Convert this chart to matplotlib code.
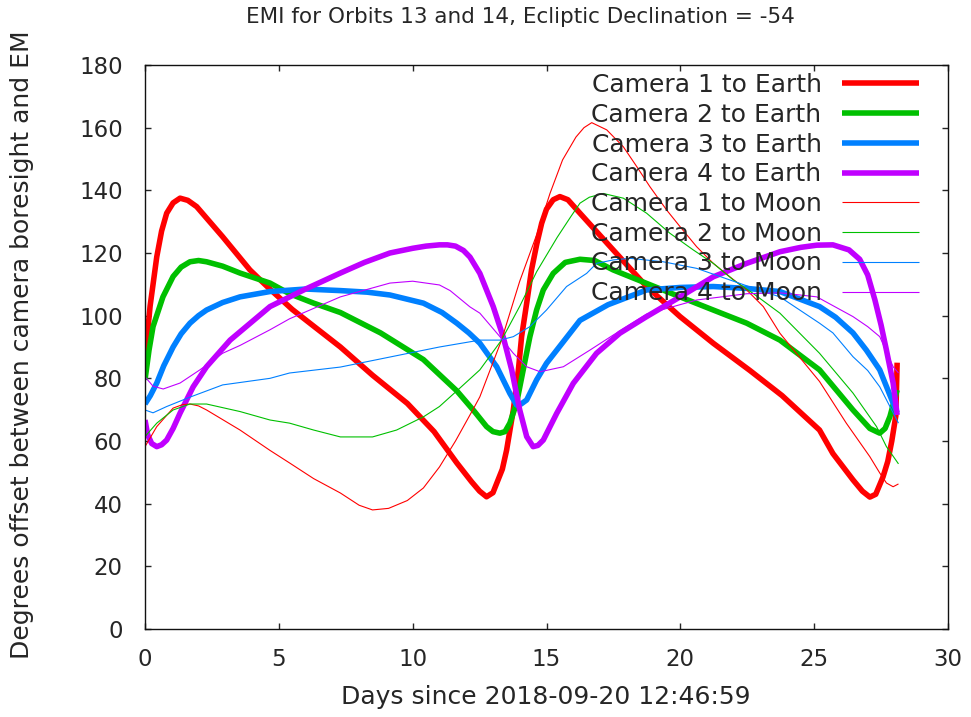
import numpy as np
import matplotlib
matplotlib.use("Agg")
import matplotlib.pyplot as plt

# Camera-to-Earth / Camera-to-Moon angles
# (days since epoch, degrees)

c1e_d = [0, 0.19, 0.44, 0.62, 0.81, 1.05, 1.31, 1.6, 1.93, 2.9, 3.92, 4.6, 5.5, 6.4, 7.3,
         8.5, 9.8, 10.8, 11.65, 12.2, 12.5, 12.76, 13.0, 13.14, 13.35, 13.51, 13.76, 13.95,
         14.07, 14.26, 14.44, 14.64, 14.82, 15.0, 15.25, 15.5, 15.8, 16.25, 17.49, 18.74,
         19.99, 21.23, 22.6, 23.8, 25.2, 25.7, 26.45, 26.8, 27.08, 27.3, 27.57, 27.75,
         27.9, 28.05, 28.1]
c1e_v = [86, 103, 118.8, 127, 132.7, 136, 137.5, 136.8, 134.8, 125.2, 114.6, 109, 102, 96, 90,
         81, 72, 63, 53, 47, 44, 42.2, 43.5, 46.5, 51, 57.1, 69.9, 82.7,
         93.3, 104, 114.6, 123, 129.5, 134, 137, 138, 137, 132.7, 121, 109.3,
         99.7, 91.2, 82.5, 74.5, 63.5, 56, 47.6, 44, 42.1, 43, 48.5, 53.5,
         60, 68, 85]

c2e_d = [0, 0.15, 0.3, 0.67, 1.05, 1.35, 1.68, 2.0, 2.3, 2.9, 3.55, 4.67, 5.4, 6.3, 7.3, 8.8,
         10.4, 11.65, 12.3, 12.76, 13.0, 13.26, 13.45, 13.63, 13.88, 14.13, 14.38, 14.63,
         14.88, 15.25, 15.7, 16.25, 16.8, 17.49, 18.74, 19.99, 21.23, 22.48, 23.72, 25.2,
         26.45, 27.08, 27.45, 27.65, 27.83, 28.1]
c2e_v = [79.5, 89, 96.5, 106, 112.5, 115.5, 117.2, 117.6, 117.2, 115.8, 113.6, 110.4, 107, 104, 101, 94.5,
         86, 76, 69.5, 64.6, 63, 62.5, 63, 65.7, 72, 82.7, 93.3, 101.8,
         108.2, 113.5, 117, 118, 117.6, 114.6, 110.3, 106, 101.8, 97.6, 92.2, 82.7,
         69.9, 64, 62.5, 64, 67.8, 76.3]

c3e_d = [0, 0.2, 0.44, 0.7, 1.05, 1.35, 1.68, 2.0, 2.3, 2.9, 3.55, 4.67, 6.0, 7.3, 8.3, 9.15,
         10.4, 11.1, 11.65, 12.1, 12.51, 13.14, 13.63, 13.88, 14.05, 14.26, 14.63, 15.0,
         15.63, 16.25, 17.3, 18.74, 19.99, 21.23, 22.48, 23.72, 25.2, 25.8, 26.45, 26.95,
         27.45, 27.95, 28.1]
c3e_v = [71.8, 74.5, 78.5, 84, 90, 94.2, 97.6, 100, 101.8, 104.2, 106, 107.7, 108.5, 108, 107.5, 106.6,
         104, 101, 97.6, 94.5, 91.2, 83.7, 75.2, 71.5, 71.8, 73.1, 79.5, 84.8,
         91.7, 98.5, 103.5, 108.2, 109, 109.3, 108.7, 107.7, 102.9, 99.5, 94.5, 89,
         82.7, 72.1, 69]

c4e_d = [0, 0.1, 0.25, 0.44, 0.62, 0.81, 1.05, 1.31, 1.8, 2.3, 3.18, 4.67, 6.0, 7.3, 8.2,
         9.15, 10.0, 10.5, 11.0, 11.3, 11.6, 11.9, 12.14, 12.51, 13.01, 13.38, 13.7, 14.0,
         14.26, 14.5, 14.68, 14.88, 15.38, 16.0, 16.87, 17.74, 18.74, 19.99, 21.23, 22.48,
         23.72, 24.5, 25.1, 25.7, 26.3, 26.7, 27.0, 27.27, 27.5, 27.7, 27.95, 28.1]
c4e_v = [66.7, 62, 59.2, 58.2, 58.8, 60.3, 64, 68.9, 77.3, 83.7, 92.2, 102.9, 108.5, 113.6, 117,
         120, 121.5, 122.2, 122.6, 122.6, 122.2, 120.8, 118.7, 113.5, 102.9, 93.3, 82.7, 69.9,
         61.4, 58.2, 58.6, 60.3, 68.8, 78.4, 88, 94.4, 99.7, 106, 112.4, 116.7,
         120.4, 121.8, 122.5, 122.6, 121, 118, 113, 105, 97, 89, 78.5, 68.3]

c1m_d = [0, 0.44, 1.05, 1.4, 1.68, 2.0, 2.3, 3.55, 4.67, 5.4, 6.3, 7.3, 8.0, 8.5, 9.1, 9.8,
         10.4, 11.0, 11.6, 12.25, 12.51, 13.32, 14.0, 14.64, 15.13, 15.6, 16.1, 16.4, 16.69,
         17.25, 17.87, 18.37, 18.86, 19.49, 19.99, 20.61, 21.23, 21.85, 22.48, 23.1, 23.72,
         25.2, 26.2, 27.08, 27.45, 27.7, 27.95, 28.15]
c1m_v = [58.2, 64.6, 70.5, 71.6, 71.8, 71.2, 69.9, 63.5, 57, 53, 48, 43.4, 39.5, 38, 38.5, 41,
         45, 51.7, 60, 70, 74.1, 92.2, 111, 126, 139, 149.7, 157, 160, 161.6,
         159.3, 153.9, 147.6, 141.2, 133.7, 128.4, 122, 116.7, 112.4, 108.2, 102.9, 94.4,
         79, 65.7, 55, 49.8, 46.6, 45.4, 46.3]

c2m_d = [0, 0.44, 1.05, 1.68, 2.3, 3.55, 4.67, 5.4, 6.3, 7.3, 8.5, 9.4, 10.4, 11.0, 11.65,
         12.51, 13.32, 14.0, 14.63, 15.4, 15.9, 16.25, 16.6, 17.12, 17.87, 18.74, 19.61,
         20.48, 21.23, 21.98, 22.72, 23.72, 25.2, 26.45, 27.33, 27.7, 28.15]
c2m_v = [61.4, 65.7, 69.9, 71.8, 71.8, 69.4, 66.7, 65.7, 63.5, 61.3, 61.3, 63.5, 67.7, 71, 76,
         82.7, 92.2, 103, 114, 125, 131.5, 135.9, 137.8, 139, 137.5, 132.7, 126.3,
         121, 116.7, 111.4, 107.1, 100.8, 88, 75.3, 64.6, 58.2, 52.7]

c3m_d = [0, 0.3, 0.81, 1.68, 2.9, 4.67, 5.4, 7.3, 9.15, 11.0, 12.51, 13.26, 13.76, 14.38,
         15.0, 15.75, 16.5, 16.87, 17.5, 18.12, 19.36, 20.61, 21.85, 23.1, 23.72, 25.2,
         25.7, 26.45, 27.0, 27.45, 28.15]
c3m_v = [69.9, 69, 71, 74, 77.9, 80, 81.7, 83.6, 86.8, 90, 92.2, 92.2, 93.3, 96.5,
         101.8, 109.3, 113.5, 116.7, 117.8, 118.3, 117.2, 115.1, 111.4, 107.7, 106, 97.6,
         94.5, 86.9, 82.5, 77.3, 65.7]

c4m_d = [0, 0.3, 0.68, 1.31, 2.05, 2.9, 3.55, 4.67, 5.4, 7.3, 9.15, 10.0, 11.0, 11.4, 12.14,
         12.51, 13.26, 13.76, 14.26, 14.76, 15.63, 16.62, 17.49, 18.74, 20.61, 22.48, 23.72,
         25.1, 26.45, 27.0, 27.45, 27.95, 28.15]
c4m_v = [80.5, 77.5, 76.6, 78.5, 82.7, 88, 90.5, 95.5, 99, 106, 110.4, 111, 109.8, 108, 102.8,
         100.8, 93.3, 88, 83.7, 82.1, 83.7, 89, 93.8, 100.5, 105, 107, 107.3,
         106, 99.7, 96.5, 93.3, 83.7, 81.7]

labels = ["Camera 1 to Earth", "Camera 2 to Earth", "Camera 3 to Earth", "Camera 4 to Earth",
          "Camera 1 to Moon", "Camera 2 to Moon", "Camera 3 to Moon", "Camera 4 to Moon"]
series = [(c1e_d, c1e_v), (c2e_d, c2e_v), (c3e_d, c3e_v), (c4e_d, c4e_v),
          (c1m_d, c1m_v), (c2m_d, c2m_v), (c3m_d, c3m_v), (c4m_d, c4m_v)]
colors = ["#ff0000", "#00c000", "#0080ff", "#c000ff"] * 2
widths = [4.0] * 4 + [0.8] * 4

TXT = "#262626"

fig = plt.figure(figsize=(9.71, 7.17), dpi=100)
ax = fig.add_axes([145 / 971, 1 - 629 / 717, 803 / 971, 564 / 717])

for (d, v), lab, c, w in zip(series, labels, colors, widths):
    ax.plot(d, v, color=c, linewidth=w, label=lab,
            solid_joinstyle="round", solid_capstyle="butt")

ax.set_xlim(0, 30)
ax.set_ylim(0, 180)
ax.set_xticks(np.arange(0, 31, 5))
ax.set_yticks(np.arange(0, 181, 20))
ax.tick_params(direction="in", length=4.5, width=1, top=True, right=True,
               labelsize=16.5, colors=TXT)
ax.tick_params(axis="y", pad=16)
ax.tick_params(axis="x", pad=14)
for sp in ax.spines.values():
    sp.set_linewidth(1.0)
    sp.set_color("#111111")

leg = ax.legend(loc="upper right", bbox_to_anchor=(1 - 29 / 803, 1 - 8 / 564),
                frameon=False, markerfirst=False, fontsize=18, handlelength=3.1,
                handletextpad=0.8, labelspacing=0.23, borderpad=0, borderaxespad=0)
for t in leg.get_texts():
    t.set_color(TXT)

fig.text(520 / 971, 1 - 17 / 717, "EMI for Orbits 13 and 14, Ecliptic Declination = -54",
         ha="center", va="center", fontsize=15.5, color=TXT)
fig.text(546 / 971, 1 - 697 / 717, "Days since 2018-09-20 12:46:59",
         ha="center", va="center", fontsize=18, color=TXT)
fig.text(22 / 971, 1 - 345 / 717, "Degrees offset between camera boresight and EM",
         ha="center", va="center", rotation=90, fontsize=18, color=TXT)

fig.savefig("out.png", dpi=100)
